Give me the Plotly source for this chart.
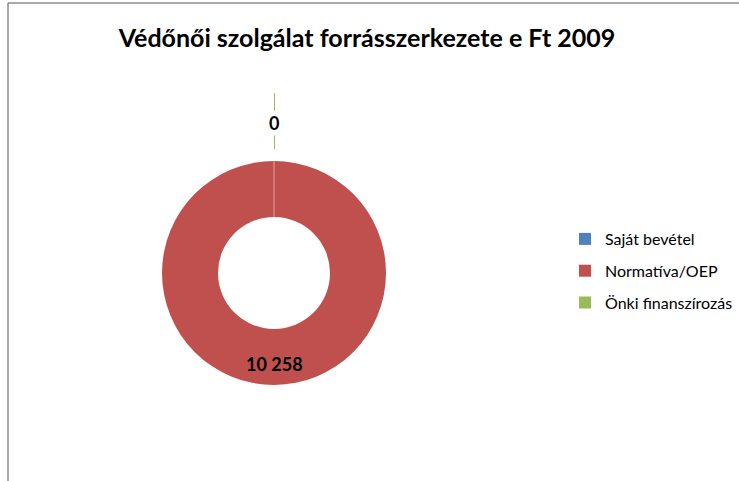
import plotly.graph_objects as go

labels = ["Saját bevétel", "Normatíva/OEP", "Önki finanszírozás"]
values = [0, 10258, 0]
colors = ["#4F81BD", "#C0504D", "#9BBB59"]

title = "Védőnői szolgálat forrásszerkezete e Ft 2009"


def fmt(v):
    return f"{v:,}".replace(",", " ")


W, H = 739, 481
cx, cy, r = 274, 273, 112

fig = go.Figure(
    go.Pie(
        labels=labels,
        values=values,
        hole=0.5,
        sort=False,
        direction="clockwise",
        rotation=0,
        marker=dict(colors=colors, line=dict(color="white", width=0)),
        textinfo="none",
        hoverinfo="label+value",
        showlegend=False,
        domain=dict(x=[(cx - r) / W, (cx + r) / W], y=[(H - cy - r) / H, (H - cy + r) / H]),
    )
)

# legend entries (one group each so the rows get Excel-like spacing)
for lab, col in zip(labels, colors):
    fig.add_trace(go.Scatter(
        x=[None], y=[None], mode="markers", name=lab, legendgroup=lab,
        marker=dict(symbol="square", size=12, color=col),
        hoverinfo="skip",
    ))

fig.update_layout(
    width=W,
    height=H,
    margin=dict(l=0, r=0, t=0, b=0),
    paper_bgcolor="white",
    plot_bgcolor="white",
    font=dict(family="Lato", color="black"),
    xaxis=dict(visible=False),
    yaxis=dict(visible=False),
    title=dict(
        text=f"<b>{title}</b>",
        x=367 / W,
        xanchor="center",
        y=1 - 38 / H,
        yanchor="middle",
        font=dict(size=25, family="Lato", color="black"),
    ),
    legend=dict(
        x=565 / W,
        y=1 - 222 / H,
        xanchor="left",
        yanchor="top",
        font=dict(size=16, family="Lato"),
        itemwidth=30,
        tracegroupgap=8,
        bgcolor="rgba(0,0,0,0)",
    ),
    showlegend=True,
)

# chart area border (top and left edges visible)
fig.add_shape(type="line", xref="paper", yref="paper",
              x0=8 / W, x1=1, y0=1 - 3 / H, y1=1 - 3 / H,
              line=dict(color="#8C8C8C", width=1.5))
fig.add_shape(type="line", xref="paper", yref="paper",
              x0=8 / W, x1=8 / W, y0=0, y1=1 - 3 / H,
              line=dict(color="#8C8C8C", width=1.5))

# thin slice border at 12 o'clock
fig.add_shape(type="line", xref="paper", yref="paper",
              x0=cx / W, x1=cx / W, y0=1 - (cy - r) / H, y1=1 - (cy - r / 2) / H,
              line=dict(color="#E6A5A3", width=1))

# leader line for zero slice
fig.add_shape(type="line", xref="paper", yref="paper",
              x0=(cx + 0.5) / W, x1=(cx + 0.5) / W, y0=1 - 93 / H, y1=1 - 149 / H,
              line=dict(color=colors[2], width=1))

fig.add_annotation(x=cx / W, y=1 - 123 / H, xref="paper", yref="paper",
                   xanchor="center", yanchor="middle",
                   text=f"<b>{fmt(values[2])}</b>", showarrow=False,
                   font=dict(size=18, family="Lato", color="black"),
                   bgcolor="white", borderpad=1)
fig.add_annotation(x=cx / W, y=1 - 364 / H, xref="paper", yref="paper",
                   xanchor="center", yanchor="middle",
                   text=f"<b>{fmt(values[1])}</b>", showarrow=False,
                   font=dict(size=18, family="Lato", color="black"))

fig.write_html("out.html", config={"displayModeBar": False},
               post_script="document.body.style.margin='0';")
